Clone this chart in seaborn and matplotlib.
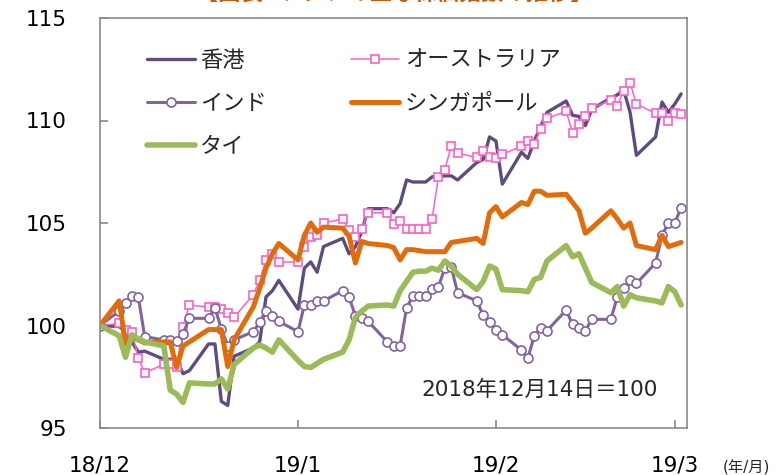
import matplotlib
matplotlib.use("Agg")
import matplotlib.pyplot as plt
import seaborn as sns
import pandas as pd

# trading days (weekdays plus the two weekend dates present in the source)
dates = pd.bdate_range("2018-12-14", "2019-03-15").union(
    pd.to_datetime(["2019-02-02", "2019-02-03"]))

hongkong = [
    100.0, 99.95, 99.7, 99.2, 98.7, 98.75, 98.35, 98.35, 98.35, 97.65,
    97.8, 99.1, 99.1, 96.3, 96.1, 98.5, 98.9, 99.2, 101.4, 101.7,
    102.2, 100.8, 102.8, 103.1, 102.6, 103.85, 104.25, 103.5, 103.85, 104.6,
    105.7, 105.7, 105.5, 105.95, 107.1, 107.0, 107.0, 107.0, 107.25, 107.3,
    107.3, 107.3, 107.1, 107.95, 108.1, 109.2, 109.0, 106.9, 108.45, 108.15,
    109.0, 109.7, 110.4, 110.95, 110.25, 110.2, 109.75, 110.55, 111.1, 111.25,
    111.5, 110.4, 108.3, 109.2, 110.9, 110.4, 110.8, 111.3]
australia = [
    100.0, 100.1, 99.8, 99.7, 98.4, 97.7, 98.1, 98.1, 98.0, 99.95,
    101.0, 100.9, 100.9, 100.8, 100.6, 100.4, 101.5, 102.2, 103.2, 103.5,
    103.1, 103.1, 103.85, 104.3, 104.4, 105.0, 105.2, 104.65, 104.3, 104.7,
    105.5, 105.5, 104.95, 105.1, 104.7, 104.7, 104.7, 104.7, 105.2, 107.25,
    107.6, 108.75, 108.4, 108.2, 108.5, 108.2, 108.15, 108.35, 108.75, 109.0,
    108.85, 109.6, 110.1, 110.45, 109.4, 109.85, 110.2, 110.6, 111.0, 110.7,
    111.45, 111.85, 110.8, 110.35, 110.35, 110.0, 110.35, 110.3]
india = [
    100.0, 100.7, 101.1, 101.45, 101.4, 99.45, 99.3, 99.3, 99.25, 99.6,
    100.35, 100.35, 100.85, 99.85, 99.0, 99.3, 99.7, 100.15, 100.7, 100.45,
    100.2, 99.7, 101.0, 101.0, 101.2, 101.2, 101.7, 101.4, 100.45, 100.35,
    100.2, 99.2, 99.0, 99.0, 100.85, 101.45, 101.45, 101.45, 101.8, 101.9,
    102.8, 102.85, 101.6, 101.2, 100.5, 100.15, 99.8, 99.55, 98.8, 98.4,
    99.5, 99.9, 99.75, 100.75, 100.05, 99.9, 99.75, 100.3, 100.3, 101.4,
    101.85, 102.2, 102.05, 103.05, 104.4, 105.0, 105.0, 105.75]
singapore = [
    100.0, 101.2, 99.1, 99.45, 99.3, 99.15, 99.2, 99.2, 97.95, 99.0,
    99.2, 99.8, 99.8, 99.8, 98.0, 99.3, 100.9, 101.8, 102.8, 103.5,
    104.0, 103.2, 104.4, 105.0, 104.55, 104.8, 104.75, 104.35, 103.05, 104.1,
    104.0, 103.9, 103.8, 103.2, 103.7, 103.7, 103.65, 103.6, 103.6, 103.6,
    103.6, 104.05, 104.1, 104.25, 104.0, 105.5, 105.8, 105.3, 106.0, 105.9,
    106.55, 106.55, 106.35, 106.4, 106.0, 105.6, 104.5, 104.75, 105.6, 105.2,
    104.75, 105.0, 103.9, 103.7, 104.4, 103.85, 103.95, 104.05]
thailand = [
    100.0, 99.5, 98.45, 99.55, 99.35, 99.2, 99.0, 96.85, 96.65, 96.25,
    97.2, 97.15, 97.15, 97.4, 96.9, 98.1, 98.9, 99.05, 98.9, 98.7,
    99.3, 98.3, 98.0, 97.95, 98.15, 98.35, 98.7, 99.3, 100.4, 100.7,
    100.95, 101.0, 100.95, 101.7, 102.15, 102.6, 102.65, 102.65, 102.8, 102.7,
    103.15, 102.9, 102.5, 101.75, 102.15, 102.9, 102.75, 101.75, 101.7, 101.65,
    102.25, 102.35, 103.15, 103.9, 103.35, 103.5, 102.8, 102.1, 101.6, 101.9,
    100.95, 101.5, 101.35, 101.2, 101.1, 101.9, 101.65, 101.0]

tick_dates = ["2018-12-14", "2019-01-14", "2019-02-14", "2019-03-14"]
tick_labels = ["18/12", "19/1", "19/2", "19/3"]

sns.set_theme(style="white")
plt.rcParams["font.family"] = ["DejaVu Sans", "Noto Sans CJK JP"]

fig = plt.figure(figsize=(7.81, 4.75), dpi=100)
ax = fig.add_axes([100 / 781, 1 - 428 / 475, 587 / 781, 410 / 475])

sns.lineplot(x=dates, y=hongkong, ax=ax, color="#5e4b80", linewidth=2.4, label="香港")
sns.lineplot(x=dates, y=australia, ax=ax, color="#ff5fc8", linewidth=1.1, label="オーストラリア",
             marker="s", markersize=6, markerfacecolor="white",
             markeredgecolor="#ff5fc8", markeredgewidth=1.2)
sns.lineplot(x=dates, y=india, ax=ax, color="#8064a2", linewidth=2.2, label="インド",
             marker="o", markersize=6.5, markerfacecolor="white",
             markeredgecolor="#8064a2", markeredgewidth=1.2)
sns.lineplot(x=dates, y=singapore, ax=ax, color="#e36c0a", linewidth=3.6, label="シンガポール")
sns.lineplot(x=dates, y=thailand, ax=ax, color="#9bbb59", linewidth=4.0, label="タイ")

ax.set_xlim(pd.Timestamp("2018-12-14"), pd.Timestamp("2019-03-15 22:00"))
ax.set_ylim(95, 115)
ax.set_yticks([95, 100, 105, 110, 115])
ax.set_xticks(pd.to_datetime(tick_dates))
ax.set_xticklabels(tick_labels)
ax.set_xlabel("")
ax.set_ylabel("")

for sp in ax.spines.values():
    sp.set_visible(True)
    sp.set_color("#8a8a8a")
    sp.set_linewidth(1.2)

ax.tick_params(axis="both", direction="in", length=6, width=1.2, color="#8a8a8a",
               labelsize=15.5, labelcolor="black")
ax.tick_params(axis="y", pad=24, left=True)
ax.tick_params(axis="x", pad=20, bottom=True)

handles, labels = ax.get_legend_handles_labels()
order = [0, 2, 4, 1, 3]
ax.legend([handles[i] for i in order], [labels[i] for i in order], ncol=2,
          frameon=False, loc="upper left", bbox_to_anchor=(0.080, 0.925),
          borderpad=0, borderaxespad=0, handlelength=2.15, handletextpad=0.25,
          columnspacing=3.8, labelspacing=0.9, numpoints=1,
          prop={"family": ["Noto Sans CJK JP"], "size": 16})

ax.text(0.7496, 0.0927, "2018年12月14日＝100", transform=ax.transAxes,
        ha="center", va="center", fontsize=15.5)

fig.text(746 / 781, 1 - 468 / 475, "(年/月)", ha="center", va="center", fontsize=11)
# title sits mostly above the canvas, as in the source image
fig.text(0.505, 1.0, "【図表2 アジアの主な株価指数の推移】", ha="center",
         va="baseline", fontsize=16, color="#c55a11", fontweight="bold",
         family=["Noto Sans CJK JP"])

fig.savefig("out.png", dpi=100)
